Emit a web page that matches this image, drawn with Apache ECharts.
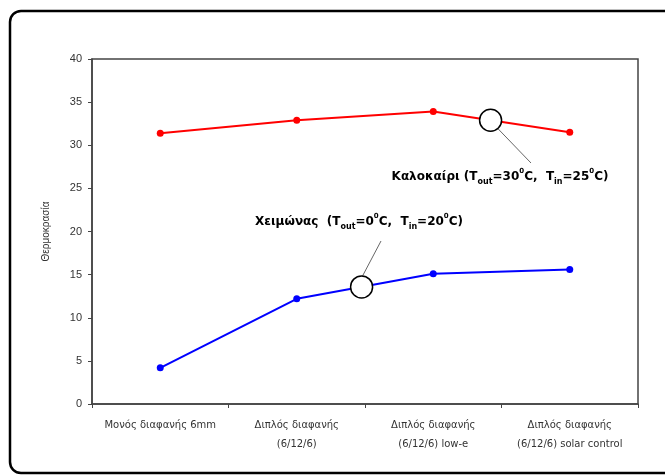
<!DOCTYPE html>
<html><head><meta charset="utf-8">
<script src="https://cdn.jsdelivr.net/npm/echarts@6/dist/echarts.min.js"></script>
<style>html,body{margin:0;padding:0;background:#fff}#c{width:665px;height:475px}</style>
</head><body><div id="c"></div>
<script>
var categories = ['Μονός διαφανής 6mm', 'Διπλός διαφανής\n(6/12/6)', 'Διπλός διαφανής\n(6/12/6) low-e', 'Διπλός διαφανής\n(6/12/6) solar control'];
var summer = [31.4, 32.9, 33.9, 31.5];
var winter = [4.2, 12.2, 15.1, 15.6];
var yTicks = [0, 5, 10, 15, 20, 25, 30, 35, 40];

var chart = echarts.init(document.getElementById('c'));
var GL = 92, GT = 59, GR = 27, GB = 71;
chart.setOption({
  animation: false,
  grid: {left: GL, top: GT, right: GR, bottom: GB, show: true, borderColor: '#444', borderWidth: 1.5},
  xAxis: {
    type: 'category', data: categories, boundaryGap: true,
    axisLine: {lineStyle: {color: '#444', width: 1.5}},
    axisTick: {show: true, length: 4, lineStyle: {color: '#444'}},
    axisLabel: {color: '#333', fontFamily: 'DejaVu Sans', fontSize: 10, lineHeight: 19, margin: 12, interval: 0}
  },
  yAxis: {
    type: 'value', min: yTicks[0], max: yTicks[yTicks.length - 1], interval: 5,
    name: 'Θερμοκρασία', nameLocation: 'middle', nameGap: 41, nameRotate: 90,
    nameTextStyle: {fontFamily: 'Liberation Sans', fontSize: 10, color: '#333'},
    axisLine: {show: true, lineStyle: {color: '#444', width: 1.5}},
    axisTick: {show: true, length: 4, lineStyle: {color: '#444'}},
    splitLine: {show: false},
    axisLabel: {color: '#333', fontFamily: 'Liberation Sans', fontSize: 11, margin: 10}
  },
  series: [
    {type: 'line', data: summer, color: '#ff0000', symbol: 'circle', symbolSize: 7, lineStyle: {width: 2}},
    {type: 'line', data: winter, color: '#0000ff', symbol: 'circle', symbolSize: 7, lineStyle: {width: 2}}
  ]
});

function lerpPt(data, i, t) {
  var a = chart.convertToPixel({gridIndex: 0}, [i, data[i]]);
  var b = chart.convertToPixel({gridIndex: 0}, [i + 1, data[i + 1]]);
  return [a[0] + t * (b[0] - a[0]), a[1] + t * (b[1] - a[1])];
}
var cs = lerpPt(summer, 2, 0.42);
var cw = lerpPt(winter, 1, 0.475);
var R = 11;
var rich = {
  m: {fontFamily: 'DejaVu Sans', fontWeight: 'bold', fontSize: 12, color: '#111', lineHeight: 18},
  sub: {fontFamily: 'DejaVu Sans', fontWeight: 'bold', fontSize: 8, color: '#111', lineHeight: 18, verticalAlign: 'bottom', padding: [6, 0, 0, 0]},
  sup: {fontFamily: 'DejaVu Sans', fontWeight: 'bold', fontSize: 7, color: '#111', lineHeight: 18, verticalAlign: 'top', padding: [0, 0, 7, 0]}
};
chart.setOption({
  graphic: [
    {type: 'rect', shape: {x: 10, y: 11, width: 700, height: 462, r: 11}, style: {fill: null, stroke: '#000', lineWidth: 2.5}, z: 10},
    {type: 'line', shape: {x1: cs[0] + 7, y1: cs[1] + 8, x2: 531, y2: 163}, style: {stroke: '#666', lineWidth: 1}, z: 10},
    {type: 'line', shape: {x1: cw[0] + 1, y1: cw[1] - 11, x2: 381, y2: 241}, style: {stroke: '#666', lineWidth: 1}, z: 10},
    {type: 'circle', shape: {cx: cs[0], cy: cs[1], r: R}, style: {fill: '#fff', stroke: '#000', lineWidth: 1.5}, z: 11},
    {type: 'circle', shape: {cx: cw[0], cy: cw[1], r: R}, style: {fill: '#fff', stroke: '#000', lineWidth: 1.5}, z: 11},
    {type: 'text', x: 500, y: 177, z: 12, style: {
      text: '{m|Καλοκαίρι (T}{sub|out}{m|=30}{sup|0}{m|C,  T}{sub|in}{m|=25}{sup|0}{m|C)}',
      rich: rich, align: 'center', verticalAlign: 'middle'}},
    {type: 'text', x: 359, y: 222, z: 12, style: {
      text: '{m|Χειμώνας  (T}{sub|out}{m|=0}{sup|0}{m|C,  T}{sub|in}{m|=20}{sup|0}{m|C)}',
      rich: rich, align: 'center', verticalAlign: 'middle'}}
  ]
});
</script></body></html>
